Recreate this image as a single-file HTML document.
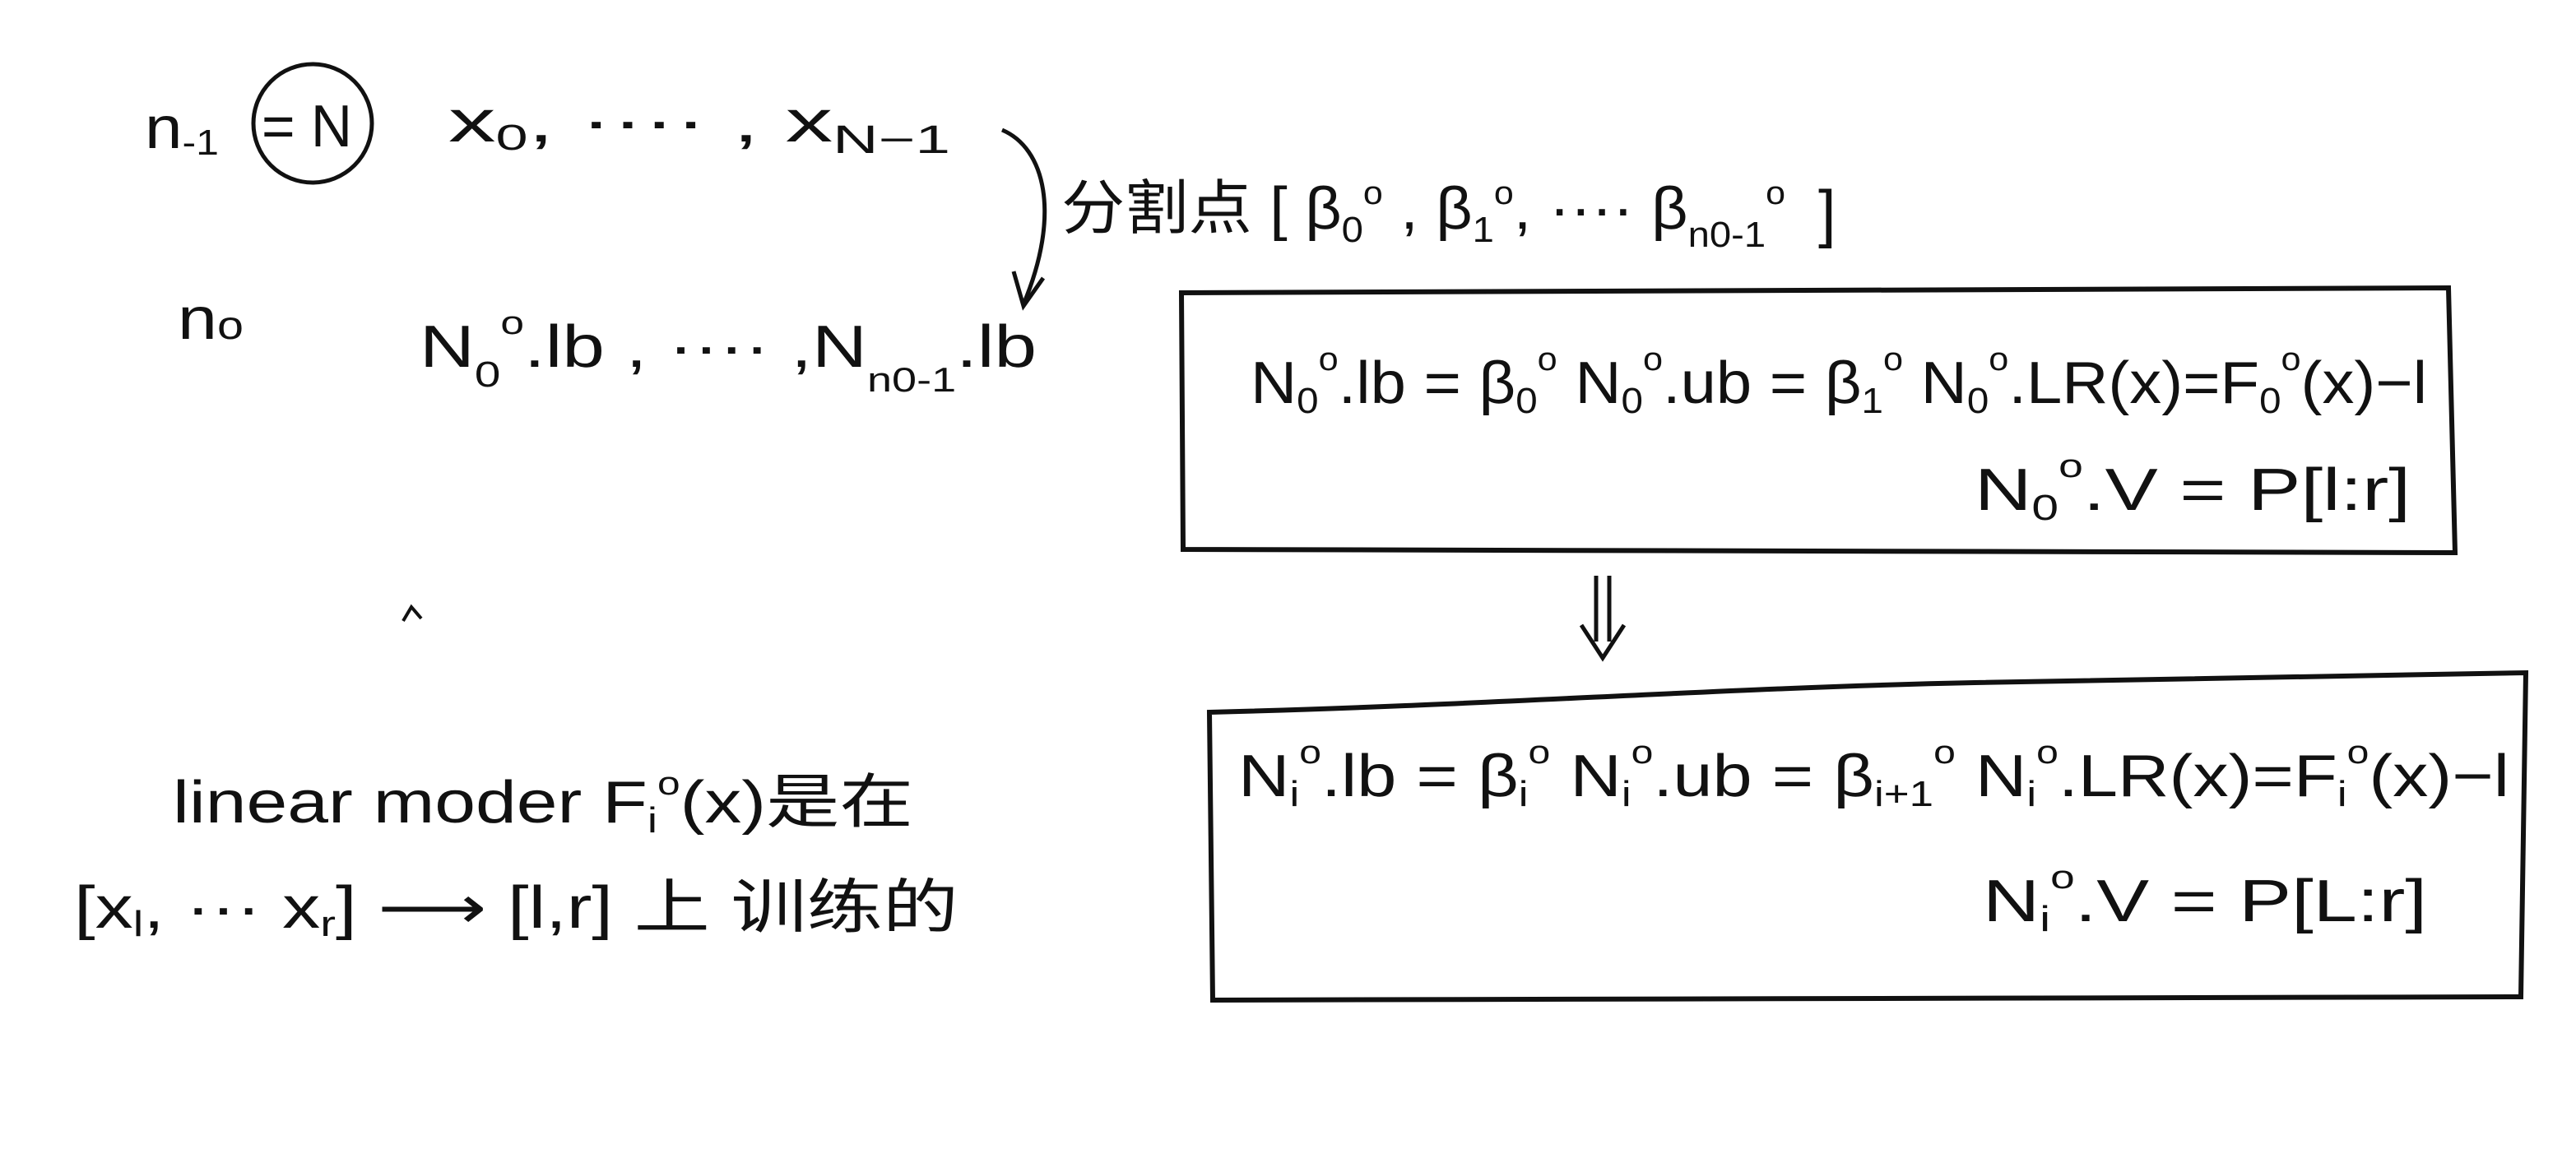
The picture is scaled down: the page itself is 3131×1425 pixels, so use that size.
<!DOCTYPE html>
<html><head><meta charset="utf-8"><style>
html,body{margin:0;padding:0;background:#fff;}
svg{display:block;}
text{font-family:"Liberation Sans","Noto Sans CJK SC",sans-serif;fill:#111;}
</style></head><body>
<svg width="3131" height="1425" viewBox="0 0 3131 1425" xmlns="http://www.w3.org/2000/svg">
<rect width="3131" height="1425" fill="#fff"/>
<g font-size="72">
<text x="176" y="180" textLength="90" lengthAdjust="spacingAndGlyphs">n<tspan font-size="44" dy="8">-1</tspan></text>
<text x="318" y="178" textLength="110" lengthAdjust="spacingAndGlyphs">= N</text>
<ellipse cx="380" cy="150" rx="72" ry="72" fill="none" stroke="#111" stroke-width="5"/>
<text x="545" y="172" textLength="610" lengthAdjust="spacingAndGlyphs">x<tspan font-size="44" dy="10">0</tspan><tspan dy="-10">, ···· , x</tspan><tspan font-size="48" dy="14">N−1</tspan></text>
<path d="M1218 158 C1270 180 1290 260 1244 370" fill="none" stroke="#111" stroke-width="5"/>
<path d="M1232 330 L1244 372 L1268 338" fill="none" stroke="#111" stroke-width="5"/>
<text x="1290" y="278" textLength="880" lengthAdjust="spacingAndGlyphs">分割点 [ β<tspan font-size="44" dy="16">0</tspan><tspan font-size="40" dy="-46">o</tspan><tspan dy="30"> , β</tspan><tspan font-size="44" dy="16">1</tspan><tspan font-size="40" dy="-46">o</tspan><tspan dy="30">, ···· β</tspan><tspan font-size="44" dy="22">n0-1</tspan><tspan font-size="40" dy="-52">o</tspan></text>
<text x="2210" y="286" font-size="78">]</text>
<text x="216" y="412" textLength="80" lengthAdjust="spacingAndGlyphs">n<tspan font-size="48" dy="0">o</tspan></text>
<text x="510" y="446" textLength="750" lengthAdjust="spacingAndGlyphs">N<tspan font-size="44" dy="24">0</tspan><tspan font-size="40" dy="-64">o</tspan><tspan dy="40">.lb , ···· ,N</tspan><tspan font-size="42" dy="30">n0-1</tspan><tspan dy="-30">.lb</tspan></text>
<path d="M490 755 L500 738 L512 752" fill="none" stroke="#111" stroke-width="4"/>
<text x="210" y="1000" textLength="900" lengthAdjust="spacingAndGlyphs">linear moder F<tspan font-size="44" dy="12">i</tspan><tspan font-size="40" dy="-46">o</tspan><tspan dy="34">(x)是在</tspan></text>
<text x="90" y="1128" textLength="1075" lengthAdjust="spacingAndGlyphs">[x<tspan font-size="44" dy="10">l</tspan><tspan dy="-10">, ··· x</tspan><tspan font-size="44" dy="10">r</tspan><tspan dy="-10">] ⟶ [l,r] 上 训练的</tspan></text>
<path d="M1436 356 L2976 350 L2984 672 L1438 668 Z" fill="none" stroke="#111" stroke-width="6"/>
<text x="1520" y="490" textLength="1430" lengthAdjust="spacingAndGlyphs">N<tspan font-size="44" dy="12">0</tspan><tspan font-size="40" dy="-52">o</tspan><tspan dy="40">.lb = β</tspan><tspan font-size="44" dy="12">0</tspan><tspan font-size="40" dy="-52">o</tspan><tspan dy="40">   N</tspan><tspan font-size="44" dy="12">0</tspan><tspan font-size="40" dy="-52">o</tspan><tspan dy="40">.ub = β</tspan><tspan font-size="44" dy="12">1</tspan><tspan font-size="40" dy="-52">o</tspan><tspan dy="40">  N</tspan><tspan font-size="44" dy="12">0</tspan><tspan font-size="40" dy="-52">o</tspan><tspan dy="40">.LR(x)=F</tspan><tspan font-size="44" dy="12">0</tspan><tspan font-size="40" dy="-52">o</tspan><tspan dy="40">(x)−l</tspan></text>
<text x="2400" y="620" textLength="530" lengthAdjust="spacingAndGlyphs">N<tspan font-size="44" dy="12">0</tspan><tspan font-size="40" dy="-52">o</tspan><tspan dy="40">.V = P[l:r]</tspan></text>
<path d="M1940 700 L1940 780 M1956 700 L1956 780" stroke="#111" stroke-width="5"/>
<path d="M1922 760 L1948 800 L1974 760" fill="none" stroke="#111" stroke-width="5"/>
<path d="M1470 866 C1800 858 2100 836 2400 830 C2700 826 2900 820 3070 818 L3064 1212 L1474 1216 Z" fill="none" stroke="#111" stroke-width="6"/>
<text x="1505" y="968" textLength="1545" lengthAdjust="spacingAndGlyphs">N<tspan font-size="44" dy="12">i</tspan><tspan font-size="40" dy="-52">o</tspan><tspan dy="40">.lb = β</tspan><tspan font-size="44" dy="12">i</tspan><tspan font-size="40" dy="-52">o</tspan><tspan dy="40">   N</tspan><tspan font-size="44" dy="12">i</tspan><tspan font-size="40" dy="-52">o</tspan><tspan dy="40">.ub = β</tspan><tspan font-size="44" dy="12">i+1</tspan><tspan font-size="40" dy="-52">o</tspan><tspan dy="40">  N</tspan><tspan font-size="44" dy="12">i</tspan><tspan font-size="40" dy="-52">o</tspan><tspan dy="40">.LR(x)=F</tspan><tspan font-size="44" dy="12">i</tspan><tspan font-size="40" dy="-52">o</tspan><tspan dy="40">(x)−l</tspan></text>
<text x="2410" y="1120" textLength="540" lengthAdjust="spacingAndGlyphs">N<tspan font-size="44" dy="12">i</tspan><tspan font-size="40" dy="-52">o</tspan><tspan dy="40">.V = P[L:r]</tspan></text>
</g>
</svg>
</body></html>
